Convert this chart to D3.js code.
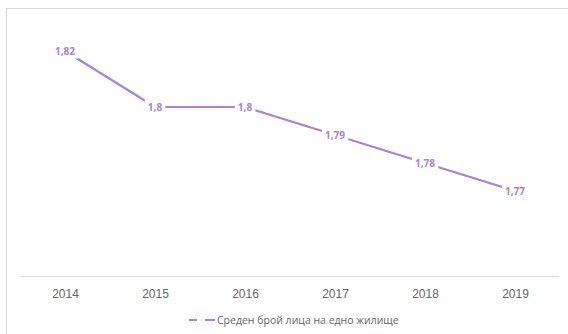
<!DOCTYPE html>
<html>
<head>
<meta charset="utf-8">
<script src="https://cdn.jsdelivr.net/npm/d3@7"></script>
<style>
  body { margin: 0; background: #fff; }
  svg { display: block; font-family: "Open Sans", "Noto Sans", sans-serif; }
</style>
</head>
<body>
<svg width="568" height="334"></svg>
<script>
var years = ["2014", "2015", "2016", "2017", "2018", "2019"];
var values = [1.82, 1.80, 1.80, 1.79, 1.78, 1.77];
var labels = ["1,82", "1,8", "1,8", "1,79", "1,78", "1,77"];
var seriesName = "Среден брой лица на едно жилище";

var svg = d3.select("svg");
var purple = "#a882d4";

// chart frame
svg.append("rect")
    .attr("x", 6.5).attr("y", 8.5)
    .attr("width", 600).attr("height", 400)
    .attr("fill", "#fff")
    .attr("stroke", "#d9d9d9");

var x = d3.scalePoint()
    .domain(years)
    .range([20, 560])
    .padding(0.5);

var y = d3.scaleLinear()
    .domain([1.74, 1.83])
    .range([275, 23]);

// category axis
var xAxis = svg.append("g")
    .attr("transform", "translate(0,276)")
    .call(d3.axisBottom(x).tickSize(0).tickPadding(13));
xAxis.select(".domain")
    .attr("d", "M20,0.5H559")
    .attr("stroke", "#d9d9d9");
xAxis.selectAll("text")
    .attr("fill", "#666")
    .attr("font-size", 12);

var data = years.map(function(d, i) { return {year: d, value: values[i], label: labels[i]}; });

var line = d3.line()
    .x(function(d) { return x(d.year); })
    .y(function(d) { return y(d.value); });

svg.append("path")
    .datum(data)
    .attr("d", line)
    .attr("fill", "none")
    .attr("stroke", purple)
    .attr("stroke-width", 2.2);

// data labels sit on the points, with a white box cutting the line
var lab = svg.append("g").selectAll("g")
    .data(data)
    .enter().append("g")
    .attr("transform", function(d) { return "translate(" + x(d.year) + "," + y(d.value) + ")"; });

lab.append("text")
    .attr("text-anchor", "middle")
    .attr("dy", "0.35em")
    .attr("font-size", 10)
    .attr("font-weight", "bold")
    .attr("fill", purple)
    .text(function(d) { return d.label; });

lab.each(function() {
  var g = d3.select(this);
  var b = g.select("text").node().getBBox();
  g.insert("rect", "text")
      .attr("x", b.x - 3).attr("y", b.y - 1)
      .attr("width", b.width + 6).attr("height", b.height + 2)
      .attr("fill", "#fff");
});

// legend
var legend = svg.append("g").attr("transform", "translate(189,320)");
legend.append("line")
    .attr("x1", 0).attr("x2", 8).attr("y1", 0).attr("y2", 0)
    .attr("stroke", purple).attr("stroke-width", 2);
legend.append("line")
    .attr("x1", 16).attr("x2", 26).attr("y1", 0).attr("y2", 0)
    .attr("stroke", purple).attr("stroke-width", 2);
legend.append("text")
    .attr("x", 28)
    .attr("dy", "0.35em")
    .attr("font-size", 10.5)
    .attr("fill", "#666")
    .text(seriesName);
</script>
</body>
</html>
